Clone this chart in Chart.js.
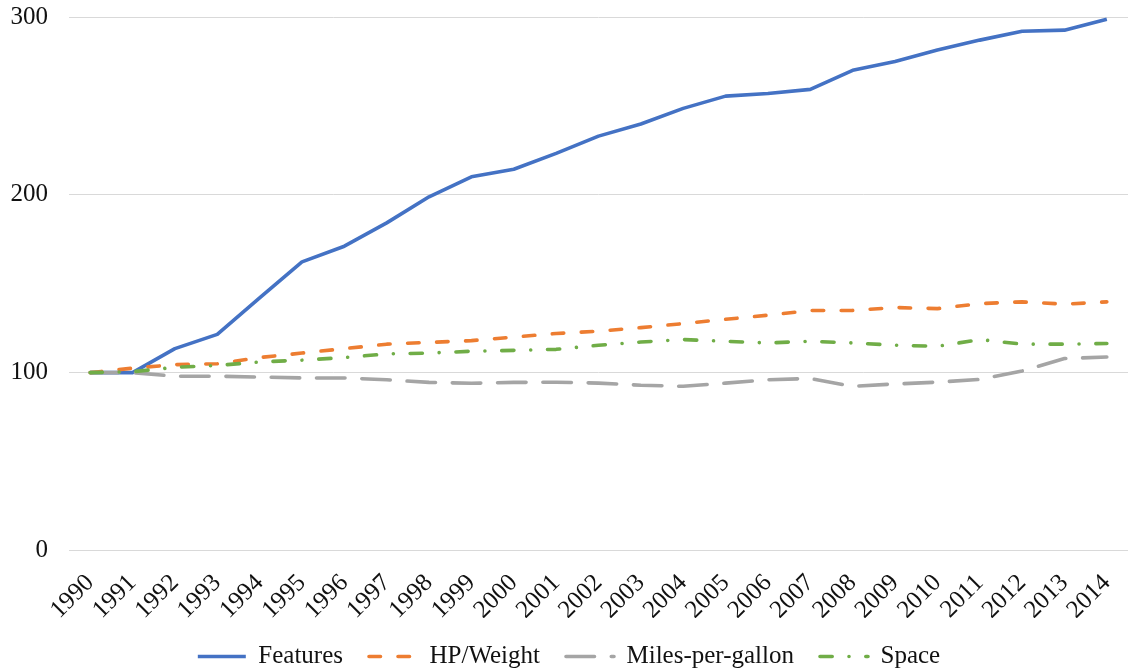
<!DOCTYPE html>
<html>
<head>
<meta charset="utf-8">
<script src="https://cdn.jsdelivr.net/npm/chart.js@4/dist/chart.umd.min.js"></script>
<style>
  html, body { margin: 0; padding: 0; background: #ffffff; }
  #wrap { width: 1128px; height: 672px; position: relative; }
</style>
</head>
<body>
<div id="wrap"><canvas id="c"></canvas></div>
<script>
const years = ['1990','1991','1992','1993','1994','1995','1996','1997','1998','1999','2000','2001','2002','2003','2004','2005','2006','2007','2008','2009','2010','2011','2012','2013','2014'];
const seriesNames = ['Features', 'HP/Weight', 'Miles-per-gallon', 'Space'];
const features = [100, 100, 113.5, 121.5, 142, 162.3, 171.1, 184.2, 198.9, 210.1, 214.4, 223.3, 233, 239.8, 248.6, 255.5, 257, 259.3, 270, 275, 281.4, 287, 292, 292.6, 298.8];
const hpWeight = [100, 102.5, 104.5, 105, 108.5, 111, 113.5, 116, 117, 118, 120, 122, 123.3, 125.3, 127.6, 130, 132.3, 134.9, 135, 136.6, 136, 138.8, 139.8, 138.5, 139.8];
const milesPerGallon = [100, 100, 98, 98, 97.5, 97, 97, 96, 94.5, 94, 94.5, 94.6, 94.1, 92.9, 92.3, 94.1, 96, 96.7, 92.3, 93.6, 94.6, 96.2, 100.9, 107.9, 108.8];
const space = [100, 100.5, 103, 104, 106, 107, 108.5, 110.5, 111, 112, 112.5, 113.1, 115.4, 117.2, 118.6, 117.6, 116.7, 117.6, 116.7, 115.4, 114.8, 118.6, 116, 116, 116.4];
const yTicks = [0, 100, 200, 300];

const colors = ['#4472C4', '#ED7D31', '#A5A5A5', '#70AD47'];
const dashes = [[], [11.5, 17.5], [28.5, 16.8], [12.2, 16.8, 0.01, 16.8]];
const values = [features, hpWeight, milesPerGallon, space];
const LW = 3.6;
const FONT = "'Liberation Serif', 'Times New Roman', serif";

const datasets = seriesNames.map((name, i) => ({
  label: name,
  data: values[i],
  borderColor: colors[i],
  backgroundColor: colors[i],
  borderWidth: LW,
  borderDash: dashes[i],
  borderCapStyle: i === 0 ? 'butt' : 'round',
  borderJoinStyle: 'round',
  pointRadius: 0,
  pointHoverRadius: 0,
  tension: 0,
  fill: false,
  order: 4 - i
}));

new Chart(document.getElementById('c'), {
  type: 'line',
  data: { labels: years, datasets: datasets },
  options: {
    responsive: true,
    maintainAspectRatio: false,
    animation: false,
    events: [],
    layout: { padding: { left: 10, right: 0, top: 17, bottom: -7 } },
    plugins: {
      tooltip: { enabled: false },
      legend: {
        position: 'bottom',
        labels: {
          font: { family: FONT, size: 25 },
          color: '#111',
          usePointStyle: true,
          pointStyleWidth: 48,
          boxHeight: 10,
          padding: 26,
          generateLabels: (chart) => seriesNames.map((name, i) => ({
            text: name,
            fillStyle: colors[i],
            strokeStyle: colors[i],
            lineWidth: LW,
            lineDash: dashes[i],
            lineCap: i === 0 ? 'butt' : 'round',
            pointStyle: 'line',
            fontColor: '#111',
            datasetIndex: i,
            hidden: false
          }))
        }
      }
    },
    scales: {
      x: {
        offset: true,
        grid: { display: false, drawTicks: false, offset: true },
        border: { display: true, color: '#d9d9d9', width: 1 },
        afterFit: (scale) => {
          scale.paddingLeft = 0;
          scale.paddingRight = 0;
          scale.height = scale.height - 25;
        },
        ticks: {
          autoSkip: false,
          minRotation: 45,
          maxRotation: 45,
          padding: 18,
          color: '#111',
          font: { family: FONT, size: 25 }
        }
      },
      y: {
        min: 0,
        max: 300,
        afterBuildTicks: (axis) => { axis.ticks = yTicks.map(v => ({ value: v })); },
        afterFit: (scale) => {
          scale.width = 59;
          scale.paddingTop = 0;
          scale.paddingBottom = 0;
        },
        grid: { color: '#d9d9d9', lineWidth: 1, drawTicks: false },
        border: { display: false },
        ticks: {
          padding: 21,
          color: '#111',
          font: { family: FONT, size: 25 }
        }
      }
    }
  }
});
</script>
</body>
</html>
